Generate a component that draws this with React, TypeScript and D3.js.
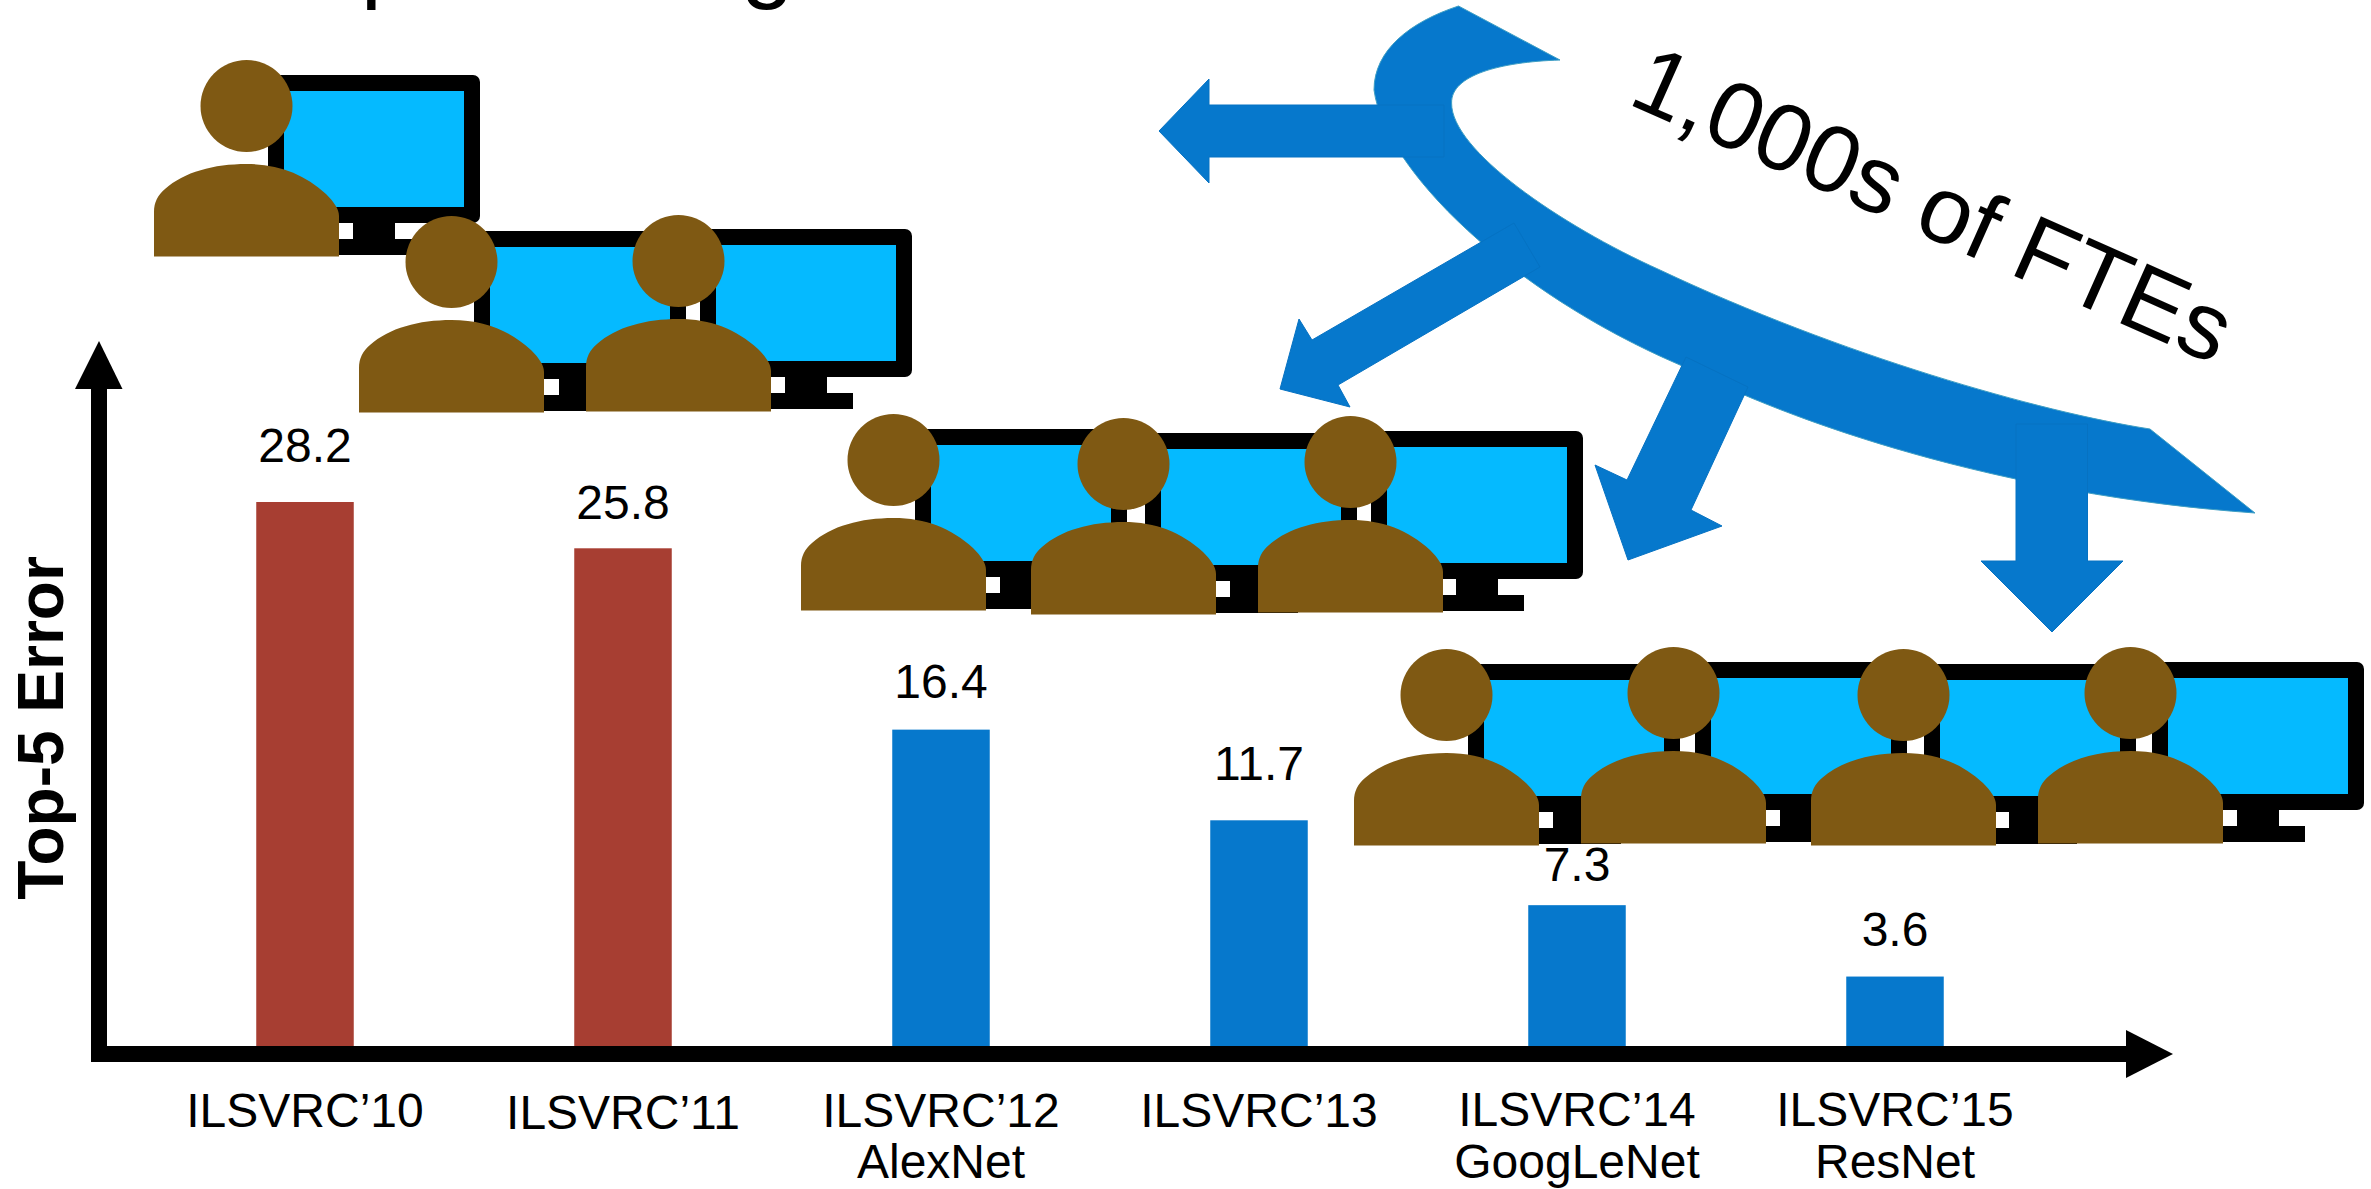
import React from "react";
import * as d3 from "d3";

// Top-5 error of the ILSVRC winners, per challenge year
const years = ["ILSVRC\u201910", "ILSVRC\u201911", "ILSVRC\u201912", "ILSVRC\u201913", "ILSVRC\u201914", "ILSVRC\u201915"];
const networks = ["", "", "AlexNet", "", "GoogLeNet", "ResNet"];
const topFiveError = [28.2, 25.8, 16.4, 11.7, 7.3, 3.6];
const deepLearning = [false, false, true, true, true, true];

// Hand-placed baselines for the text around the bars
const valueBaselines = [461.5, 518.5, 698, 780, 881, 945.5];
const yearBaselines = [1126.7, 1128.7, 1126.7, 1126.7, 1126, 1126];
const networkBaseline = 1178;

// Desks drawn above the bars: [x, y] of each monitor and of each person's body
const monitors = [
  [268, 75],
  [474, 231], [700, 229],
  [915, 429], [1145, 433], [1371, 431],
  [1468, 664], [1695, 662], [1924, 664], [2152, 662],
];
const people = [
  [154, 164],
  [359, 320], [586, 319],
  [801, 518], [1031, 522], [1258, 520],
  [1354, 753], [1581, 751], [1811, 753], [2038, 751],
];

// Outline of the large curved arrow, as cubic segments: [c1x, c1y, c2x, c2y, x, y]
const swooshStart = [1458.5, 6];
const swooshOuter = [
  [1410, 22, 1374, 50, 1374, 90],
  [1385, 170, 1510, 292, 1680, 365],
  [1790, 422, 2000, 495, 2255, 513],
];
const swooshShoulder = [2150, 429];
const swooshInner = [
  [2040, 412, 1840, 355, 1660, 270],
  [1560, 225, 1451, 150, 1451.6, 103],
  [1451, 75, 1500, 62, 1560, 60],
];

// Straight arrows branching off the curved one
const branchArrows: [number, number][][] = [
  [[1444, 105], [1209, 105], [1209, 79], [1159, 131], [1209, 183], [1209, 157], [1444, 157]],
  [[1514, 223], [1312, 340], [1299, 319], [1280, 389], [1350, 407], [1338, 385], [1540, 267]],
  [[1686, 357], [1627, 480], [1595, 465], [1628, 560], [1722, 526], [1691, 510], [1748, 387]],
  [[2016, 424], [2016, 561], [1981, 561], [2052, 632], [2123, 561], [2087.5, 561], [2087.5, 424]],
];

const BLUE = "#0678CC";
const RED = "#A73E32";
const SCREEN = "#05BAFF";
const SKIN = "#7F5913";
const FONT = "'Liberation Sans', Arial, sans-serif";

const BASE_Y = 1046;
const BAR_W = 97.5;

const x = d3.scalePoint<string>().domain(years).range([305, 1895]);
const y = d3.scaleLinear().domain([0, 28.2]).range([BASE_Y, 502]);

const polygon = d3.line().curve(d3.curveLinearClosed);

function swooshPath() {
  const p = d3.path();
  p.moveTo(swooshStart[0], swooshStart[1]);
  swooshOuter.forEach(([a, b, c, d, e, f]) => p.bezierCurveTo(a, b, c, d, e, f));
  p.lineTo(swooshShoulder[0], swooshShoulder[1]);
  swooshInner.forEach(([a, b, c, d, e, f]) => p.bezierCurveTo(a, b, c, d, e, f));
  p.closePath();
  return p.toString();
}

// Head and shoulders silhouette, anchored at the top-left of the body
function Person({ px, py }: { px: number; py: number }) {
  const body = d3.path();
  body.moveTo(px, py + 92.5);
  body.lineTo(px, py + 48);
  body.bezierCurveTo(px, py + 38, px + 4, py + 31, px + 11, py + 25);
  body.bezierCurveTo(px + 30, py + 8, px + 60, py, px + 92.5, py);
  body.bezierCurveTo(px + 125, py, px + 150, py + 10, px + 172, py + 30);
  body.bezierCurveTo(px + 180, py + 38, px + 185, py + 45, px + 185, py + 52);
  body.lineTo(px + 185, py + 92.5);
  body.closePath();
  return (
    <g fill={SKIN}>
      <circle cx={px + 92.5} cy={py - 58} r={46} />
      <path d={body.toString()} />
    </g>
  );
}

// Monitor on a stand, anchored at the top-left of its frame
function Monitor({ mx, my }: { mx: number; my: number }) {
  return (
    <g>
      <rect x={mx + 85} y={my + 140} width={42} height={30} fill="#000" />
      <rect x={mx + 59} y={my + 164} width={94} height={16} fill="#000" />
      <rect x={mx} y={my} width={212} height={148} rx={7} fill="#000" />
      <rect x={mx + 16} y={my + 16} width={180} height={116} fill={SCREEN} />
    </g>
  );
}

export default function App() {
  return (
    <svg
      width={2371}
      height={1189}
      viewBox="0 0 2371 1189"
      style={{ position: "absolute", left: 0, top: 0, display: "block", background: "#fff" }}
      fontFamily={FONT}
    >
      {/* Slide heading, running off the top edge */}
      <text x={250} y={-10} fontSize={95} fill="#000">Expert Design</text>

      {/* Bars */}
      {years.map((year, i) => (
        <rect
          key={year}
          x={x(year)! - BAR_W / 2}
          y={y(topFiveError[i])}
          width={BAR_W}
          height={BASE_Y - y(topFiveError[i])}
          fill={deepLearning[i] ? BLUE : RED}
        />
      ))}

      {/* Axes */}
      <line x1={99} x2={99} y1={1062} y2={385} stroke="#000" strokeWidth={16} />
      <path d={polygon([[75, 389], [99, 341], [122.5, 389]])!} fill="#000" />
      <line x1={91} x2={2130} y1={1054} y2={1054} stroke="#000" strokeWidth={16} />
      <path d={polygon([[2126, 1030], [2173, 1054], [2126, 1078]])!} fill="#000" />
      <text
        transform="translate(63,728) rotate(-90)"
        textAnchor="middle"
        fontSize={64}
        fontWeight="bold"
        fill="#000"
      >
        Top-5 Error
      </text>

      {/* Value and category labels */}
      {years.map((year, i) => (
        <g key={year} textAnchor="middle" fill="#000" fontSize={48}>
          <text x={x(year)} y={valueBaselines[i]}>{topFiveError[i]}</text>
          <text x={x(year)} y={yearBaselines[i]}>{year}</text>
          {networks[i] && <text x={x(year)} y={networkBaseline}>{networks[i]}</text>}
        </g>
      ))}

      {/* Engineers at their monitors */}
      {monitors.map(([mx, my]) => <Monitor key={`${mx}`} mx={mx} my={my} />)}
      {people.map(([px, py]) => <Person key={`${px}`} px={px} py={py} />)}

      {/* Curved arrow with its branches */}
      <path d={swooshPath()} fill={BLUE} stroke="#3f9fc4" strokeWidth={1} />
      {branchArrows.map((pts, i) => (
        <path key={i} d={polygon(pts)!} fill={BLUE} stroke="#0672c2" strokeWidth={1} />
      ))}
      <text transform="translate(1626,103) rotate(24)" fontSize={95} fill="#000">1,000s of FTEs</text>
    </svg>
  );
}
